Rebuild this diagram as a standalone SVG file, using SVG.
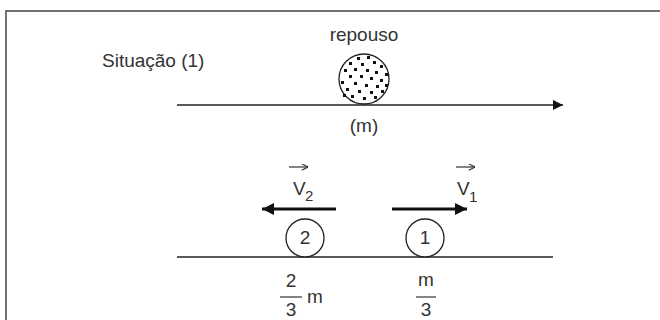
<svg xmlns="http://www.w3.org/2000/svg" width="660" height="320" viewBox="0 0 660 320">
<defs>
<style>
text{font-family:"Liberation Sans",Arial,sans-serif;font-size:19px;fill:#333}
.ln{stroke:#222;stroke-width:1.5;fill:none}
.th{stroke:#111;stroke-width:3;fill:none}
.c{stroke:#222;stroke-width:1.3;fill:#fff}
.vec{stroke:#333;stroke-width:1.2;fill:none}
.sub{font-size:15px}
</style>
<marker id="ah" viewBox="0 0 10 10" refX="10" refY="5" markerWidth="11" markerHeight="10" markerUnits="userSpaceOnUse" orient="auto"><path d="M0,0L10,5L0,10z" fill="#111"/></marker>
<marker id="ah2" viewBox="0 0 10 10" refX="10" refY="5" markerWidth="4.5" markerHeight="4" orient="auto"><path d="M0,0L10,5L0,10z" fill="#111"/></marker>
<marker id="av" viewBox="0 0 10 10" refX="10" refY="5" markerWidth="7" markerHeight="7" markerUnits="userSpaceOnUse" orient="auto"><path d="M1,0.5L10,5L1,9.5" fill="none" stroke="#333" stroke-width="1.6"/></marker>
</defs>
<path d="M6,320V11H660" stroke="#444" stroke-width="1.5" fill="none"/>
<text x="102" y="67">Situação (1)</text>
<g id="connectors">
<line class="ln" x1="177" y1="105" x2="563" y2="105" marker-end="url(#ah)"/>
<line class="ln" x1="177" y1="257" x2="553" y2="257"/>
<line class="th" x1="336" y1="209" x2="262" y2="209" marker-end="url(#ah2)"/>
<line class="th" x1="392" y1="209" x2="467" y2="209" marker-end="url(#ah2)"/>
</g>
<g id="ball">
<text x="364" y="41" text-anchor="middle">repouso</text>
<circle class="c" cx="364" cy="79" r="25"/>
<g fill="#111">
<rect x="357" y="57" width="3" height="3"/><rect x="367" y="56" width="3" height="3"/><rect x="349" y="62" width="3" height="3"/><rect x="361" y="63" width="3" height="3"/><rect x="373" y="61" width="3" height="3"/><rect x="380" y="65" width="3" height="3"/><rect x="344" y="69" width="3" height="3"/><rect x="354" y="68" width="3" height="3"/><rect x="366" y="69" width="3" height="3"/><rect x="375" y="71" width="3" height="3"/><rect x="385" y="73" width="3" height="3"/><rect x="349" y="75" width="3" height="3"/><rect x="360" y="75" width="3" height="3"/><rect x="370" y="77" width="3" height="3"/><rect x="380" y="79" width="3" height="3"/><rect x="341" y="81" width="3" height="3"/><rect x="354" y="82" width="3" height="3"/><rect x="365" y="84" width="3" height="3"/><rect x="376" y="85" width="3" height="3"/><rect x="346" y="88" width="3" height="3"/><rect x="358" y="90" width="3" height="3"/><rect x="370" y="91" width="3" height="3"/><rect x="381" y="90" width="3" height="3"/><rect x="351" y="95" width="3" height="3"/><rect x="363" y="97" width="3" height="3"/><rect x="374" y="96" width="3" height="3"/><rect x="343" y="94" width="3" height="3"/><rect x="385" y="84" width="3" height="3"/>
</g>
<text x="364" y="132" text-anchor="middle">(m)</text>
</g>
<g id="ball2">
<circle class="c" cx="305" cy="238" r="19"/>
<text x="305" y="244" text-anchor="middle">2</text>
<line class="vec" x1="289" y1="167" x2="308" y2="167" marker-end="url(#av)"/>
<text x="293" y="195">V</text><text x="305" y="201" class="sub">2</text>
<text x="291" y="287" text-anchor="middle">2</text>
<line x1="280" y1="297" x2="302" y2="297" stroke="#333" stroke-width="1.2"/>
<text x="291" y="316" text-anchor="middle">3</text>
<text x="307" y="303">m</text>
</g>
<g id="ball1">
<circle class="c" cx="425" cy="238" r="19"/>
<text x="425" y="244" text-anchor="middle">1</text>
<line class="vec" x1="456" y1="167" x2="475" y2="167" marker-end="url(#av)"/>
<text x="457" y="195">V</text><text x="469" y="202" class="sub">1</text>
<text x="426" y="286" text-anchor="middle">m</text>
<line x1="416" y1="297" x2="436" y2="297" stroke="#333" stroke-width="1.2"/>
<text x="426" y="316" text-anchor="middle">3</text>
</g>
</svg>
